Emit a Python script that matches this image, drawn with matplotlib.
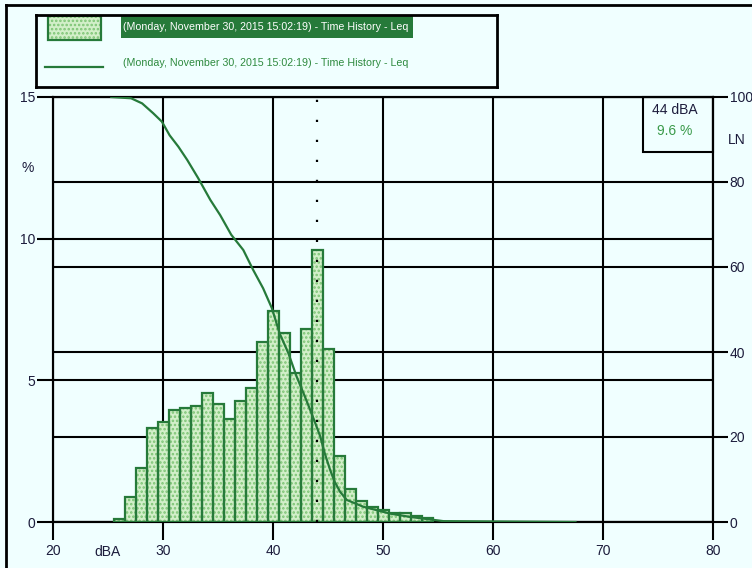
import matplotlib.pyplot as plt
import numpy as np
from matplotlib.patches import Rectangle
from matplotlib.lines import Line2D

# ---------------------------------------------------------------------------------
# data
levels = [26, 27, 28, 29, 30, 31, 32, 33, 34, 35, 36, 37, 38, 39, 40,
          41, 42, 43, 44, 45, 46, 47, 48, 49, 50, 51, 52, 53, 54]
pct = [0.10, 0.88, 1.92, 3.31, 3.54, 3.95, 4.02, 4.09, 4.56, 4.16, 3.63, 4.26,
       4.72, 6.36, 7.44, 6.66, 5.27, 6.82, 9.60, 6.11, 2.33, 1.17, 0.75, 0.54,
       0.42, 0.33, 0.31, 0.22, 0.15]

ln_db = [25.3, 27.1, 28.1, 29.1, 29.9, 30.6, 31.4, 32.2, 33.2, 34.3, 35.2,
         36.2, 37.3, 38.2, 39.1, 39.9, 40.6, 41.4, 42.15, 42.9, 43.5, 44.3,
         44.7, 45.2, 45.6, 46.1, 46.7, 47.45, 48.2, 49.4, 50.6, 52.45, 54.3,
         55.5, 67.5]
ln_val = [100, 99.7, 98.5, 96.2, 94.2, 91.0, 88.3, 85.2, 80.9, 75.8, 72.2,
          67.6, 64.0, 59.3, 55.0, 50.3, 44.4, 39.7, 34.2, 29.5, 25.6, 20.1,
          16.2, 12.2, 9.5, 7.1, 5.2, 4.4, 3.6, 2.8, 2.0, 1.2, 0.6,
          0.2, 0]

x_ticks = [20, 30, 40, 50, 60, 70, 80]
pct_ticks = [0, 5, 10, 15]
ln_ticks = [0, 20, 40, 60, 80, 100]

series_name = '(Monday, November 30, 2015 15:02:19) - Time History - Leq'

# ---------------------------------------------------------------------------------
BG = '#f0ffff'
DKGREEN = '#267a3a'
FILL = '#d2efc9'
DOTS = '#7cc474'
TXT = '#1c1c3c'

plt.rcParams['font.family'] = ['Liberation Sans', 'DejaVu Sans']
plt.rcParams['hatch.linewidth'] = 1.2

fig = plt.figure(figsize=(7.52, 5.68), dpi=100, facecolor=BG)
W, H = 752., 568.

# main axes: % on the left, LN twin on the right
ax = fig.add_axes([53/W, 1-522/H, 660/W, 425/H])
ax2 = ax.twinx()
ax.set_zorder(ax2.get_zorder() + 1)
ax.patch.set_visible(False)
ax2.patch.set_facecolor(BG)

ax.set_xlim(20, 80)
ax.set_ylim(0, 15)
ax2.set_ylim(0, 100)
ax.set_autoscale_on(False)

for a in (ax, ax2):
    for s in a.spines.values():
        s.set_color('k')
        s.set_linewidth(1.5)
    a.set_axisbelow(True)

ax.set_xticks(x_ticks)
ax.set_yticks(pct_ticks)
ax2.set_yticks(ln_ticks)
ax.grid(True, color='k', lw=1.5)
ax2.grid(True, axis='y', color='k', lw=1.5)

ax.tick_params(axis='y', direction='out', length=11.5, width=1.5, pad=1,
               labelsize=10, labelcolor=TXT)
ax.tick_params(axis='x', direction='out', length=13, width=1.5, pad=3,
               labelsize=10, labelcolor=TXT)
ax2.tick_params(axis='y', direction='out', length=11, width=1.5, pad=1,
                labelsize=10, labelcolor=TXT)

# bars: dotted texture then dark outline
ax.bar(levels, pct, width=1.0, color=FILL, edgecolor=DOTS,
       hatch='....', linewidth=0, zorder=2)
ax.bar(levels, pct, width=1.0, color='none', edgecolor=DKGREEN,
       linewidth=1.6, zorder=3)

# marker at the peak level
imax = int(np.argmax(pct))
ax.axvline(levels[imax], color='k', lw=1.6, ls=(0, (1, 8)), zorder=4)

# LN curve on the right scale
ax.plot(ln_db, ln_val, color=DKGREEN, lw=1.6, zorder=5,
        transform=ax2.transData)

# axis captions
ax.text(0.082, -0.07, 'dBA', transform=ax.transAxes, ha='center', va='center',
        fontsize=10, color=TXT)
ax.text(-0.039, 0.833, '%', transform=ax.transAxes, ha='center', va='center',
        fontsize=10, color=TXT)
ax.text(1.036, 0.899, 'LN', transform=ax.transAxes, ha='center', va='center',
        fontsize=10, color=TXT)

# cursor read-out box
ax.add_patch(Rectangle((0.894, 0.871), 0.106, 0.129, transform=ax.transAxes,
                       fc='none', ec='k', lw=1.5, zorder=6, clip_on=False))
ax.text(0.9424, 0.969, '%d dBA' % levels[imax], transform=ax.transAxes,
        ha='center', va='center', fontsize=10, color=TXT, zorder=7)
ax.text(0.9424, 0.92, '%.1f %%' % pct[imax], transform=ax.transAxes,
        ha='center', va='center', fontsize=10, color='#3a9a4a', zorder=7)

# ---------------------------------------------------------------------------------
# legend box, laid out in its own pixel-like axes
lg = fig.add_axes([36/W, 1-87/H, 461/W, 72/H])
lg.set_xlim(0, 461)
lg.set_ylim(72, 0)
lg.set_xticks([])
lg.set_yticks([])
lg.patch.set_facecolor(BG)
for s in lg.spines.values():
    s.set_linewidth(2)
    s.set_color('k')
lg.add_patch(Rectangle((12, 1), 53, 24, fc=FILL, ec=DOTS, hatch='....', lw=0))
lg.add_patch(Rectangle((12, 1), 53, 24, fc='none', ec=DKGREEN, lw=1.6))
lg.plot([9, 67], [52, 52], color=DKGREEN, lw=1.6)
# highlighted (selected) series name
lg.add_patch(Rectangle((85, 0), 292, 23, fc=DKGREEN, ec='none'))
lg.text(87, 12, series_name, va='center', ha='left', fontsize=7.7,
        color='white')
lg.text(87, 48, series_name, va='center', ha='left', fontsize=7.7,
        color='#2e8a3e')

# outer frame (left and top edges)
fig.add_artist(Line2D([6/W, 6/W], [0, 1-5/H], color='k', lw=2))
fig.add_artist(Line2D([6/W, 1], [1-5/H, 1-5/H], color='k', lw=2))

fig.savefig('out.png', dpi=100, facecolor=BG)
